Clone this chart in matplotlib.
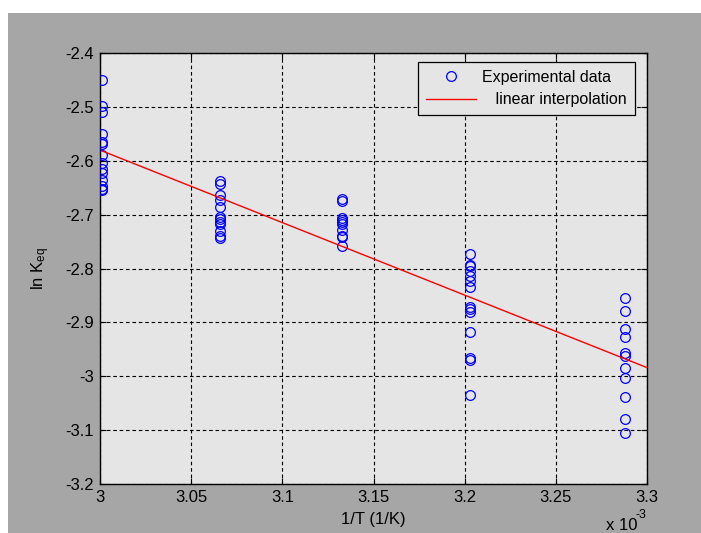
import matplotlib
matplotlib.use('Agg')
import matplotlib.pyplot as plt
from matplotlib.patches import Rectangle
from matplotlib.ticker import FuncFormatter, MultipleLocator

# Equilibrium constant vs. inverse temperature (van't Hoff plot)
inv_T = [3.0013e-3, 3.0660e-3, 3.1327e-3, 3.2031e-3, 3.2877e-3]   # 1/K

lnK_1 = [-2.450, -2.498, -2.510, -2.550, -2.565, -2.568, -2.590, -2.604,
         -2.615, -2.623, -2.635, -2.647, -2.652, -2.655]
lnK_2 = [-2.638, -2.643, -2.663, -2.673, -2.686, -2.705, -2.709, -2.713,
         -2.717, -2.730, -2.739, -2.743]
lnK_3 = [-2.671, -2.675, -2.706, -2.710, -2.713, -2.717, -2.728, -2.739,
         -2.742, -2.759]
lnK_4 = [-2.774, -2.793, -2.796, -2.805, -2.814, -2.823, -2.835, -2.872,
         -2.876, -2.881, -2.917, -2.967, -2.970, -3.034]
lnK_5 = [-2.854, -2.879, -2.913, -2.927, -2.956, -2.963, -2.984, -3.003,
         -3.038, -3.080, -3.106]
lnK_groups = [lnK_1, lnK_2, lnK_3, lnK_4, lnK_5]

# straight-line fit through the data
fit_x = [3.0013e-3, 3.3e-3]
fit_y = [-2.582, -2.984]

plt.rcParams['font.family'] = 'Liberation Sans'
plt.rcParams['mathtext.fontset'] = 'custom'
plt.rcParams['mathtext.rm'] = 'Liberation Sans'
plt.rcParams['mathtext.it'] = 'Liberation Sans'
plt.rcParams['axes.unicode_minus'] = False
plt.rcParams['lines.scale_dashes'] = False

W, H = 701, 533
fig = plt.figure(figsize=(W / 100, H / 100), dpi=100)
fig.patch.set_facecolor('white')
fig.patches.append(Rectangle((8 / W, 0), 1 - 8 / W, 1 - 13 / H,
                             transform=fig.transFigure, facecolor='#a6a6a6',
                             edgecolor='none', zorder=-10))

ax = fig.add_axes([100 / W, (H - 484) / H, 547 / W, 431 / H])
ax.set_zorder(1)
ax.set_facecolor('#e5e5e5')

xs = []
ys = []
for x, vals in zip(inv_T, lnK_groups):
    xs += [x] * len(vals)
    ys += vals

ax.plot(xs, ys, linestyle='none', marker='o', markersize=7,
        markerfacecolor='none', markeredgecolor='#0000ff',
        markeredgewidth=0.9, label='Experimental data', zorder=3)
ax.plot(fit_x, fit_y, color='#ff0000', linewidth=1.0,
        label='   linear interpolation', zorder=4)

ax.set_xlim(3.0e-3, 3.3e-3)
ax.set_ylim(-3.2, -2.4)
ax.xaxis.set_major_locator(MultipleLocator(0.05e-3))
ax.yaxis.set_major_locator(MultipleLocator(0.1))
ax.xaxis.set_major_formatter(FuncFormatter(lambda v, _: f'{v * 1e3:g}'))
ax.yaxis.set_major_formatter(FuncFormatter(lambda v, _: f'{v:g}'))

ax.grid(True, color='black', linestyle=(0, (2.6, 2.0)), linewidth=0.8)
ax.set_axisbelow(False)
ax.tick_params(direction='in', length=4, width=0.8, labelsize=12,
               top=True, right=True, pad=4.5, colors='black')
for s in ax.spines.values():
    s.set_linewidth(1.0)
    s.set_color('black')

ax.set_xlabel('1/T (1/K)', fontsize=12)
ax.xaxis.set_label_coords(0.5, -0.064)
ax.xaxis.label.set_va('top')
ax.set_ylabel(r'ln K$_{\rm eq}$', fontsize=12)
ax.yaxis.set_label_coords(-0.087, 0.5)

# axis multiplier in the lower right corner
fig.text(606 / W, 1 - 533 / H, 'x 10', fontsize=12, ha='left', va='bottom')
fig.text(636 / W, 1 - 521 / H, '-3', fontsize=9, ha='left', va='bottom')

leg = ax.legend(loc='upper right', bbox_to_anchor=(0.978, 0.979),
                borderaxespad=0, fontsize=11.5, fancybox=False,
                framealpha=1, facecolor='#e5e5e5', edgecolor='black',
                handlelength=3.1, handletextpad=0.4, labelspacing=0.45,
                borderpad=0.5, numpoints=1)
leg.get_frame().set_linewidth(0.9)

fig.savefig('out.png', dpi=100, facecolor=fig.get_facecolor())
